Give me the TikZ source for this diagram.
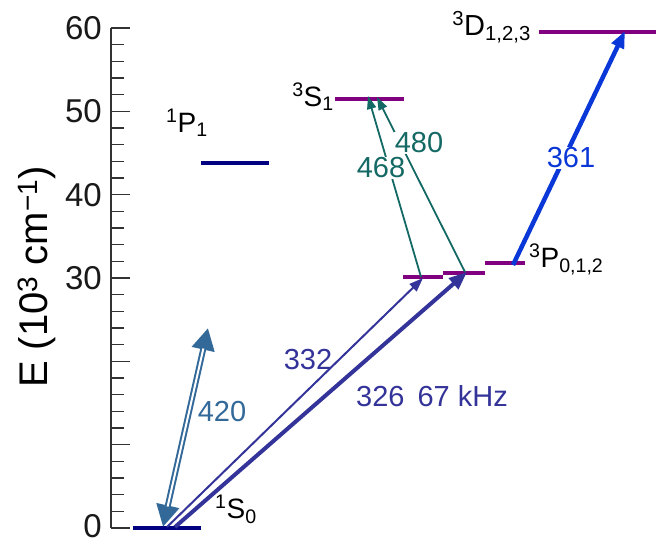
\documentclass[tikz,border=0pt]{standalone}
\usepackage{fontspec}
\setmainfont{Liberation Sans}
\usetikzlibrary{arrows.meta}
\definecolor{navyc}{RGB}{0,0,128}
\definecolor{purpc}{RGB}{128,0,128}
\definecolor{steelc}{RGB}{51,105,153}
\definecolor{slatec}{RGB}{51,51,153}
\definecolor{tealc}{RGB}{20,105,100}
\definecolor{bluec}{RGB}{10,55,215}
\definecolor{axisc}{RGB}{50,50,50}
\newcommand\fsz[1]{\fontsize{#1}{#1}\selectfont}
\begin{document}
\begin{tikzpicture}[x=1pt,y=-1pt,
  level/.style={line width=4pt},
  ticklab/.style={anchor=east, inner sep=0pt, font=\fsz{33}, text=black!90},
  lvllab/.style={inner sep=0pt, font=\fsz{28}, text=black},
  translab/.style={inner sep=1pt, font=\fsz{29}},
  gaplab/.style={translab, fill=white},
  tickline/.style={axisc, line width=1.5pt},
]
\useasboundingbox (0,0) rectangle (656,544);

% axis
\coordinate (axtop) at (111,28);
\coordinate (axbot) at (111,528);
\draw[tickline] (axtop) -- (axbot);
\foreach \v in {0,2,...,60}{
  \coordinate (mt\v) at (111,{528-\v*25/3});
  \draw[tickline] (mt\v) -- ++(13,0);
}
\foreach \v in {0,10,...,60}{
  \draw[tickline] (mt\v) -- ++(19,0);
}
\foreach \v in {30,40,50,60}{
  \node[ticklab] (tl\v) at (102,{528-\v*25/3}) {\v};
}
\node[ticklab] (tl0) at (102,526) {0};
\node[rotate=90, anchor=base, inner sep=0pt, font=\fsz{40}] (ylab) at (47,277)
  {E (10\textsuperscript{3} cm\textsuperscript{−1})};

% levels
\coordinate (s0a) at (133,528); \coordinate (s0b) at (201,528);
\coordinate (p1a) at (201,163); \coordinate (p1b) at (269,163);
\coordinate (s1a) at (335,99);  \coordinate (s1b) at (404,99);
\coordinate (d3a) at (539,32);  \coordinate (d3b) at (656,32);
\coordinate (p0a) at (403,277); \coordinate (p0b) at (443,277);
\coordinate (pxa) at (443,273); \coordinate (pxb) at (485,273);
\coordinate (p2a) at (485,263); \coordinate (p2b) at (525,263);
\draw[level, navyc] (s0a) -- (s0b);
\draw[level, navyc] (p1a) -- (p1b);
\draw[level, purpc] (s1a) -- (s1b);
\draw[level, purpc] (d3a) -- (d3b);
\draw[level, purpc] (p0a) -- (p0b);
\draw[level, purpc] (pxa) -- (pxb);
\draw[level, purpc] (p2a) -- (p2b);

% level labels
\node[lvllab, anchor=base west] (lp1) at (166,132) {\textsuperscript{1}P\textsubscript{1}};
\node[lvllab, anchor=base east] (ls1) at (334,106) {\textsuperscript{3}S\textsubscript{1}};
\node[lvllab, anchor=base east, font=\fsz{29}] (ld3) at (531,35) {\textsuperscript{3}D\textsubscript{1,2,3}};
\node[lvllab, anchor=base west] (lp3) at (529,267) {\textsuperscript{3}P\textsubscript{0,1,2}};
\node[lvllab, anchor=base west] (ls0) at (215,518) {\textsuperscript{1}S\textsubscript{0}};

% transitions
\coordinate (a420) at (163,527); \coordinate (b420) at (208,328);
\coordinate (a332) at (167,527); \coordinate (b332) at (423,278);
\coordinate (a326) at (175,527); \coordinate (b326) at (467,272);
\coordinate (a468) at (421,277); \coordinate (b468) at (368,96);
\coordinate (a480) at (465,272); \coordinate (b480) at (377,97);
\coordinate (a361) at (513,265); \coordinate (b361) at (625,31);

\draw[steelc, line width=6pt, {Triangle[length=22pt,width=22pt]}-{Triangle[length=22pt,width=22pt]}] (a420) -- (b420);
\draw[white, line width=2pt, shorten <=21pt, shorten >=21pt] (a420) -- (b420);

\draw[slatec, line width=2pt, -{Triangle[length=14pt,width=10pt]}] (a332) -- (b332);
\draw[slatec, line width=4pt, -{Triangle[length=18pt,width=14pt]}] (a326) -- (b326);
\draw[tealc, line width=1.8pt, -{Triangle[length=13pt,width=9pt]}] (a468) -- (b468);
\draw[tealc, line width=1.8pt, -{Triangle[length=13pt,width=9pt]}] (a480) -- (b480);
\draw[bluec, line width=4.5pt, -{Triangle[length=17pt,width=13pt]}] (a361) -- (b361);

% transition labels
\node[translab, text=steelc] (t420) at (222,412) {420};
\node[translab, text=slatec] (t332) at (308,360) {332};
\node[translab, text=slatec] (t326) at (432,396) {326\hspace{0.45em}67 kHz};
\node[gaplab, text=tealc] (t468) at (381,168) {468};
\node[gaplab, text=tealc] (t480) at (419,143) {480};
\node[gaplab, text=bluec] (t361) at (571,158) {361};
\end{tikzpicture}
\end{document}
